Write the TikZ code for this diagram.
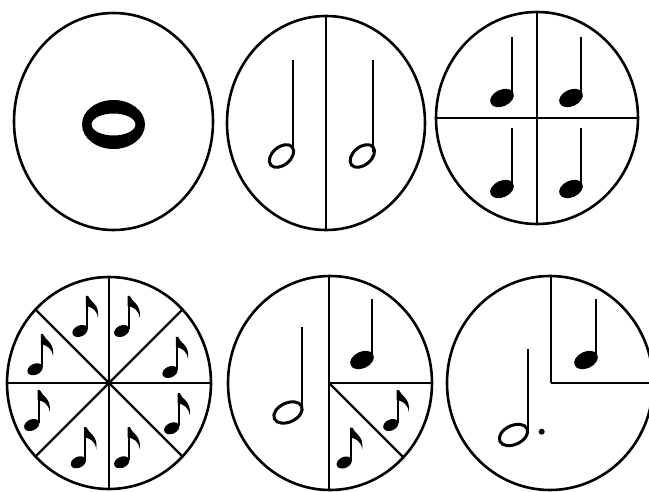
\documentclass[tikz,border=0pt]{standalone}
\begin{document}
\begin{tikzpicture}[x=1pt,y=1pt,
  rim/.style={line width=2.6pt},
  divider/.style={line width=2.4pt},
  notestem/.style={line width=2.3pt},
  hollowhead/.style={line width=3pt}]
\useasboundingbox (0,0) rectangle (649,491);
\fill[white] (0,0) rectangle (649,491);
% quarter note: head centre
\newcommand{\qnote}[2]{%
  \fill[shift={(#1,#2)},rotate=25] (0,0) ellipse (12.5 and 8.3);
  \draw[notestem] (#1+10,#2+2) -- (#1+10,#2+61);}
% eighth note: head centre
\newcommand{\enote}[2]{%
  \fill[shift={(#1,#2)},rotate=25] (0,0) ellipse (8 and 5.5);
  \draw[notestem] (#1+7,#2+2) -- (#1+7,#2+35);
  \fill[shift={(#1+7,#2+35)}] (-1.1,0) -- (1.1,0) .. controls (3,-6) and (13,-8) .. (11,-22)
     .. controls (10,-14) and (5,-11) .. (-1.1,-10) -- cycle;}
% half note: head x, head y, a, b, angle, stem x, stem top
\newcommand{\hnote}[7]{%
  \draw[hollowhead,shift={(#1,#2)},rotate=#5] (0,0) ellipse (#3 and #4);
  \draw[notestem] (#6,#2+4) -- (#6,#7);}
% circle 1
\draw[rim] (113.5,369.5) coordinate (c1) ellipse (99.5 and 108.5);
\fill[even odd rule] (113.5,366.5) ellipse (31.5 and 24.5) (113.5,366.5) ellipse (22 and 11);
% circle 2
\draw[rim] (326,368) coordinate (c2) ellipse (99 and 107);
\draw[divider] (326,261) -- (326,475);
\hnote{281.5}{335}{14}{9}{40}{292.7}{431}
\hnote{362.3}{335}{14}{9}{40}{373.3}{431}
% circle 3
\draw[rim] (537,373) coordinate (c3) ellipse (101 and 106);
\draw[divider] (537,267) -- (537,479);
\draw[divider] (436,373) -- (638,373);
\qnote{502}{393}\qnote{571}{393}\qnote{502}{302}\qnote{571}{302}
% circle 4
\begin{scope}
  \clip (109,108) ellipse (102 and 106);
  \foreach \a in {0,45,...,315} \draw[divider] (109,108) -- ++(\a:140);
\end{scope}
\draw[rim] (109,108) coordinate (c4) ellipse (102 and 106);
\fill (109,108) circle (3.5);
\enote{80}{160}\enote{121.7}{160}\enote{170}{119}\enote{171.7}{62.7}
\enote{121.7}{28.7}\enote{78.3}{28.7}\enote{31.7}{66}\enote{35}{121.7}
% circle 5
\begin{scope}
  \clip (330,108) ellipse (102 and 107);
  \draw[divider] (329,0) -- (329,220);
  \draw[divider] (329,108) -- (440,108);
  \draw[divider] (329,108) -- ++(-45:160);
\end{scope}
\draw[rim] (330,108) coordinate (c5) ellipse (102 and 107);
\hnote{288}{78.5}{15}{9.5}{25}{302.3}{164}
\qnote{362}{131}
\enote{390.8}{66}\enote{344.2}{28.5}
% circle 6
\begin{scope}
  \clip (550,108) ellipse (103 and 107);
  \draw[divider] (551,108) -- (551,220);
  \draw[divider] (551,108) -- (660,108);
\end{scope}
\draw[rim] (550,108) coordinate (c6) ellipse (103 and 107);
\hnote{513.5}{56}{15}{9.5}{25}{528.3}{141.7}
\fill (541.7,59.3) circle (3);
\qnote{586}{131}
\end{tikzpicture}
\end{document}
